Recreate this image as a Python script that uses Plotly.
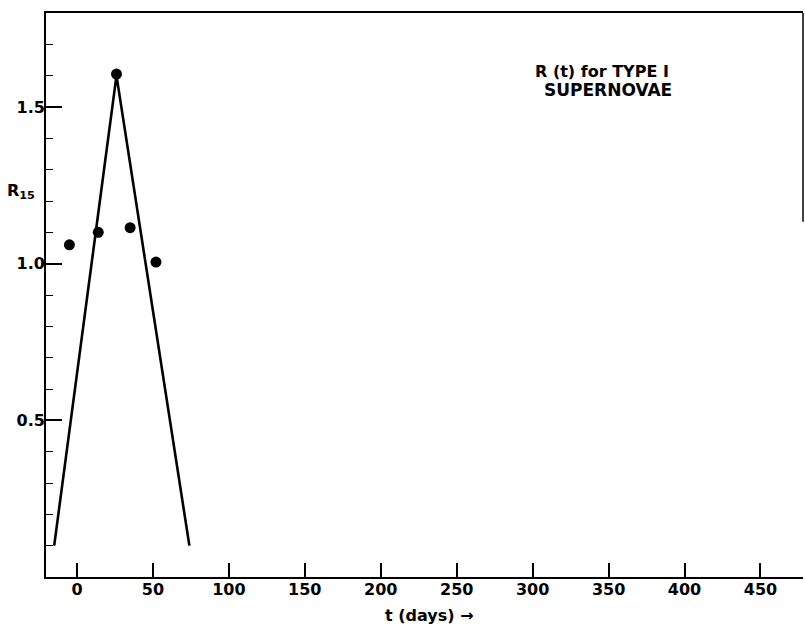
import plotly.graph_objects as go

# Data
line_t = [-15, 26, 74]
line_r = [0.10, 1.60, 0.10]

dot_t = [-5, 14, 26, 35, 52]
dot_r = [1.06, 1.10, 1.605, 1.115, 1.005]

x_tickvals = [0, 50, 100, 150, 200, 250, 300, 350, 400, 450]
x_ticktext = ["0", "50", "100", "150", "200", "250", "300", "350", "400", "450"]
y_tickvals = [0.5, 1.0, 1.5]
y_ticktext = ["0.5", "1.0", "1.5"]

FONT = "DejaVu Sans"
TF = dict(family=FONT, size=16, color="black", weight="bold")

fig = go.Figure()
fig.add_trace(go.Scatter(
    x=line_t, y=line_r, mode="lines",
    line=dict(color="black", width=2.6),
    showlegend=False, hoverinfo="skip",
))
fig.add_trace(go.Scatter(
    x=dot_t, y=dot_r, mode="markers",
    marker=dict(color="black", size=11),
    showlegend=False,
))

fig.update_layout(
    width=805, height=625,
    margin=dict(l=46, r=2, t=13, b=48),
    paper_bgcolor="white", plot_bgcolor="white",
    font=dict(family=FONT, color="black", size=16),
    xaxis=dict(
        range=[-20.4, 478], showgrid=False, zeroline=False, automargin=False,
        showline=True, linecolor="black", linewidth=1.8, mirror=True,
        ticks="inside", ticklen=14, tickwidth=1.5, tickcolor="black",
        tickvals=x_tickvals, ticktext=x_ticktext,
        tickfont=TF, ticklabelstandoff=-3,
    ),
    yaxis=dict(
        range=[0, 1.8], showgrid=False, zeroline=False, automargin=False,
        showline=True, linecolor="black", linewidth=1.8, mirror=False,
        ticks="inside", ticklen=16, tickwidth=1.5, tickcolor="black",
        tickvals=y_tickvals, ticktext=y_ticktext,
        tickfont=TF, ticklabelstandoff=-4,
        minor=dict(ticks="inside", ticklen=7, tickwidth=1.3, tickcolor="black",
                   dtick=0.1, tick0=0, showgrid=False),
    ),
    shapes=[dict(type="line", xref="paper", yref="paper",
                 x0=1, x1=1, y0=1, y1=0.63,
                 line=dict(color="black", width=1.5))],
    annotations=[
        dict(text="R<sub>15</sub>", xref="paper", yref="paper",
             x=-0.033, y=0.683, xanchor="center", yanchor="middle",
             showarrow=False, font=TF),
        dict(text="t (days) \u2192", xref="paper", yref="paper",
             x=0.507, y=-0.069, xanchor="center", yanchor="middle",
             showarrow=False, font=TF),
        dict(text="R (t) for TYPE I", xref="paper", yref="paper",
             x=0.734, y=0.897, xanchor="center", yanchor="middle",
             showarrow=False, font=TF),
        dict(text="SUPERNOVAE", xref="paper", yref="paper",
             x=0.743, y=0.863, xanchor="center", yanchor="middle",
             showarrow=False, font=dict(family=FONT, size=17, color="black", weight="bold")),
    ],
)

fig.write_html(
    "out.html",
    config={"displayModeBar": False},
    post_script="document.body.style.margin='0';document.body.style.overflow='hidden';",
)
